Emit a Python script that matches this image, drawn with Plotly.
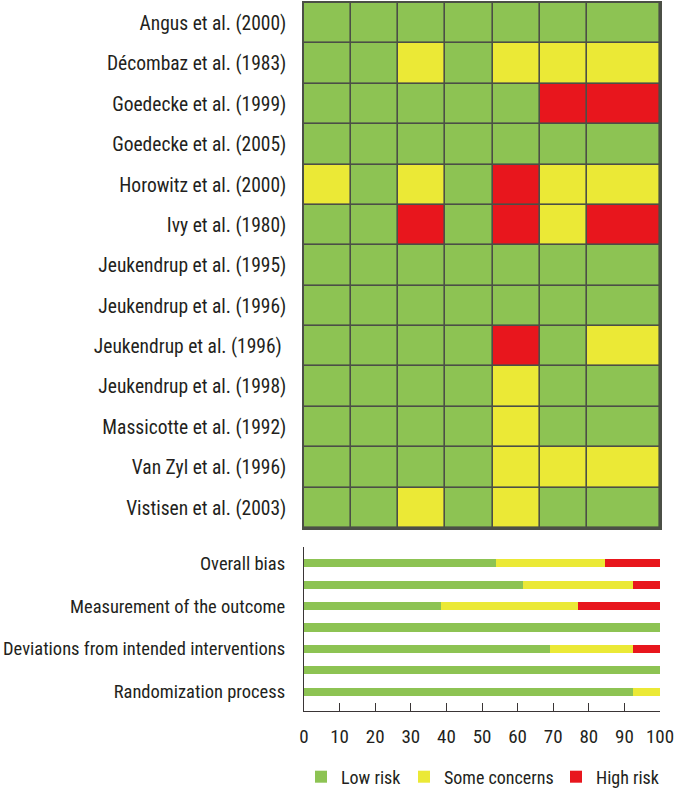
import plotly.graph_objects as go

W, H = 674, 790

studies = [
    "Angus et al. (2000)", "Décombaz et al. (1983)", "Goedecke et al. (1999)",
    "Goedecke et al. (2005)", "Horowitz et al. (2000)", "Ivy et al. (1980)",
    "Jeukendrup et al. (1995)", "Jeukendrup et al. (1996)", "Jeukendrup et al. (1996) ",
    "Jeukendrup et al. (1998)", "Massicotte et al. (1992)", "Van Zyl et al. (1996)",
    "Vistisen et al. (2003)",
]
# 0 = Low risk, 1 = Some concerns, 2 = High risk ; columns D1..D6 + Overall
judgements = [
    [0, 0, 0, 0, 0, 0, 0],
    [0, 0, 1, 0, 1, 1, 1],
    [0, 0, 0, 0, 0, 2, 2],
    [0, 0, 0, 0, 0, 0, 0],
    [1, 0, 1, 0, 2, 1, 1],
    [0, 0, 2, 0, 2, 1, 2],
    [0, 0, 0, 0, 0, 0, 0],
    [0, 0, 0, 0, 0, 0, 0],
    [0, 0, 0, 0, 2, 0, 1],
    [0, 0, 0, 0, 1, 0, 0],
    [0, 0, 0, 0, 1, 0, 0],
    [0, 0, 0, 0, 1, 1, 1],
    [0, 0, 1, 0, 1, 0, 0],
]

domains = ["Randomization process", "D2", "Deviations from intended interventions", "D4",
           "Measurement of the outcome", "D6", "Overall bias"]
domain_labels = ["Randomization process", "", "Deviations from intended interventions", "",
                 "Measurement of the outcome", "", "Overall bias"]
low_risk = [92.3, 100, 69.2, 100, 38.5, 61.5, 53.8]
some_concerns = [7.7, 0, 23.1, 0, 38.5, 30.8, 30.8]
high_risk = [0, 0, 7.7, 0, 23.1, 7.7, 15.4]
x_ticks = [0, 10, 20, 30, 40, 50, 60, 70, 80, 90, 100]

GREEN, YELLOW, RED = "#8dc353", "#ebe936", "#e8161d"
BORDER = "#4b4f46"
TXT = "#231f20"
FONT = "Roboto Condensed, Roboto, sans-serif"

# column edges (last column wider)
col_edges = [0, 1, 2, 3, 4, 5, 6, 7.55]

fig = go.Figure()

fig.add_trace(go.Heatmap(
    z=judgements, x=col_edges, y=studies,
    colorscale=[[0, GREEN], [1/3, GREEN], [1/3, YELLOW], [2/3, YELLOW], [2/3, RED], [1, RED]],
    zmin=-0.5, zmax=2.5, showscale=False, xgap=1.6, ygap=1.6, hoverinfo="skip",
    xaxis="x", yaxis="y", showlegend=False,
))

for name, vals, col, lg in [("Low risk", low_risk, GREEN, "legend"),
                            ("Some concerns", some_concerns, YELLOW, "legend2"),
                            ("High risk", high_risk, RED, "legend3")]:
    fig.add_trace(go.Bar(
        x=vals, y=list(range(len(domains))), orientation="h", name=name,
        marker=dict(color=col, line=dict(width=0)), width=0.38,
        xaxis="x2", yaxis="y2", legend=lg, showlegend=True,
    ))

x0, x1 = 304 / W, 660 / W
leg_common = dict(orientation="h", xanchor="left", yanchor="middle", y=1 - 777 / H,
                  font=dict(size=18, color=TXT), bgcolor="rgba(0,0,0,0)", itemwidth=30)
fig.update_layout(
    width=W, height=H, margin=dict(l=0, r=0, t=0, b=0, autoexpand=False),
    paper_bgcolor="white", plot_bgcolor="white",
    barmode="stack", bargap=0,
    font=dict(family=FONT, color=TXT, size=18),
    xaxis=dict(domain=[x0, x1], range=[0, 7.55], showticklabels=False, showgrid=False,
               zeroline=False, showline=True, mirror=True, linecolor=BORDER, linewidth=1.6,
               ticks="", automargin=False),
    yaxis=dict(domain=[1 - 528 / H, 1 - 3 / H], autorange="reversed", showgrid=False,
               zeroline=False, showline=True, mirror=True, linecolor=BORDER, linewidth=1.6,
               ticks="outside", ticklen=12, tickcolor="rgba(0,0,0,0)", automargin=False,
               tickfont=dict(size=19.5, color=TXT)),
    xaxis2=dict(domain=[x0, x1], anchor="y2", range=[0, 100], tickvals=x_ticks,
                showgrid=False, zeroline=False, showline=True, linecolor="#3a3536",
                linewidth=1.3, ticks="inside", ticklen=8, tickcolor="#3a3536", tickwidth=1,
                ticklabelstandoff=8, tickfont=dict(size=19, color=TXT), automargin=False,
                ticklabeloverflow="allow"),
    yaxis2=dict(domain=[1 - 711 / H, 1 - 547 / H], anchor="x2", range=[-0.9, 6.76],
                tickvals=list(range(len(domains))), ticktext=domain_labels,
                showgrid=False, zeroline=False, showline=True, linecolor="#3a3536",
                linewidth=1.3, ticks="outside", ticklen=14, tickcolor="rgba(0,0,0,0)",
                tickfont=dict(size=18.5, color=TXT), automargin=False),
    legend=dict(x=301 / W, **leg_common),
    legend2=dict(x=404 / W, **leg_common),
    legend3=dict(x=556 / W, **leg_common),
)
# dark background behind the heatmap so the cell gaps read as border lines
fig.add_shape(type="rect", xref="x domain", yref="y domain", x0=0, x1=1, y0=0, y1=1,
              fillcolor=BORDER, line=dict(width=0), layer="below")

fig.write_html("out.html", config={"displayModeBar": False},
               post_script="document.body.style.margin='0';")
